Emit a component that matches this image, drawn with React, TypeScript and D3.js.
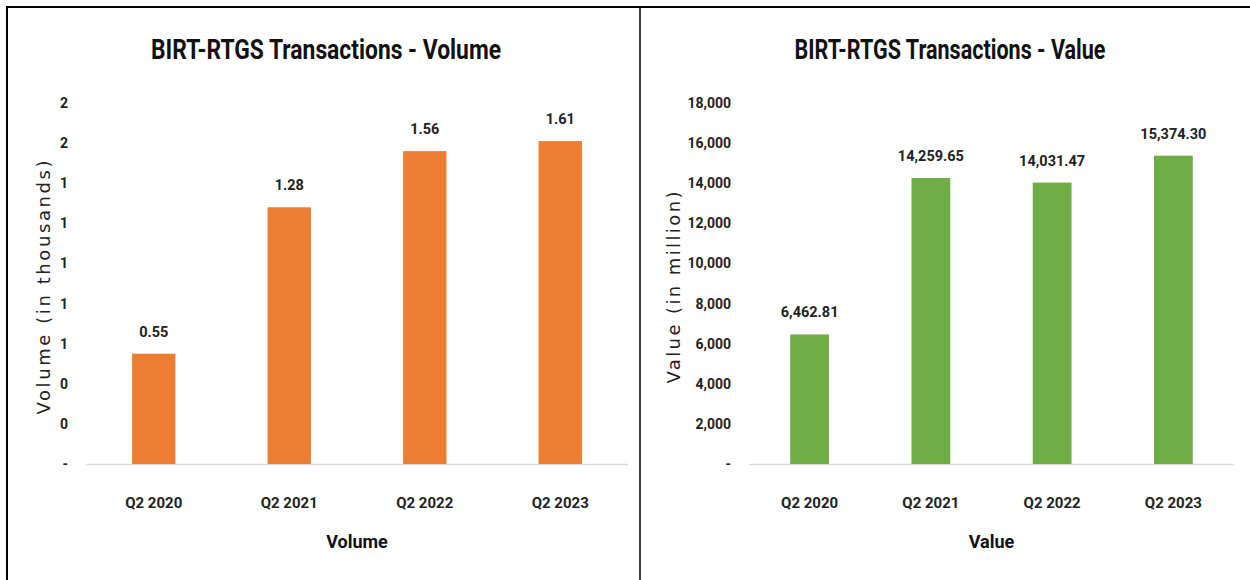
import React, { useEffect, useRef } from "react";
import * as d3 from "d3";

const quarters = ["Q2 2020", "Q2 2021", "Q2 2022", "Q2 2023"];
const volumeValues = [0.55, 1.28, 1.56, 1.61];
const valueValues = [6462.81, 14259.65, 14031.47, 15374.3];
const volumeTicks = [0, 0.2, 0.4, 0.6, 0.8, 1.0, 1.2, 1.4, 1.6, 1.8];
const valueTicks = [0, 2000, 4000, 6000, 8000, 10000, 12000, 14000, 16000, 18000];

const W = 1250;
const H = 580;
const narrow = "'Liberation Sans Narrow', 'Roboto', 'Open Sans', sans-serif";

type PanelCfg = {
  title: string;
  titleX: number;
  titleLen: number;
  yTitle: string;
  yTitleX: number;
  yTitleLen: number;
  xTitle: string;
  values: number[];
  ticks: number[];
  tickFmt: (v: number) => string;
  labelFmt: (v: number) => string;
  color: string;
  x0: number;
  x1: number;
  tickX: number;
};

const App: React.FC = () => {
  const svgRef = useRef<SVGSVGElement | null>(null);

  useEffect(() => {
    const svg = d3.select(svgRef.current);
    svg.selectAll("*").remove();

    svg.append("rect").attr("width", W).attr("height", H).attr("fill", "#fff");

    // frame lines
    svg.append("line").attr("x1", 6).attr("x2", W).attr("y1", 7).attr("y2", 7)
      .attr("stroke", "#000").attr("stroke-width", 2);
    svg.append("line").attr("x1", 7).attr("x2", 7).attr("y1", 6).attr("y2", H)
      .attr("stroke", "#000").attr("stroke-width", 2);
    svg.append("line").attr("x1", 640).attr("x2", 640).attr("y1", 6).attr("y2", H)
      .attr("stroke", "#000").attr("stroke-width", 1.5);

    const yTop = 103;
    const yBottom = 464;

    const panels: PanelCfg[] = [
      {
        title: "BIRT-RTGS Transactions - Volume",
        titleX: 326,
        titleLen: 350,
        yTitle: "Volume  (in thousands)",
        yTitleX: 44,
        yTitleLen: 254,
        xTitle: "Volume",
        values: volumeValues,
        ticks: volumeTicks,
        tickFmt: (v) => (v === 0 ? "-" : d3.format(".0f")(v)),
        labelFmt: d3.format(".2f"),
        color: "#ED7D31",
        x0: 86,
        x1: 628,
        tickX: 68,
      },
      {
        title: "BIRT-RTGS Transactions - Value",
        titleX: 950,
        titleLen: 311,
        yTitle: "Value  (in million)",
        yTitleX: 674,
        yTitleLen: 192,
        xTitle: "Value",
        values: valueValues,
        ticks: valueTicks,
        tickFmt: (v) => (v === 0 ? "-" : d3.format(",.0f")(v)),
        labelFmt: d3.format(",.2f"),
        color: "#70AD47",
        x0: 749,
        x1: 1234,
        tickX: 731,
      },
    ];

    panels.forEach((p) => {
      const g = svg.append("g");
      const maxTick = p.ticks[p.ticks.length - 1];
      const y = d3.scaleLinear().domain([0, maxTick]).range([yBottom, yTop]);
      const x = d3.scaleBand().domain(quarters).range([p.x0, p.x1]).paddingInner(0.68).paddingOuter(0.34);

      g.append("text")
        .attr("x", p.titleX)
        .attr("y", 59)
        .attr("text-anchor", "middle")
        .attr("font-family", narrow)
        .attr("font-weight", "bold")
        .attr("font-size", 27)
        .attr("fill", "#111")
        .attr("textLength", p.titleLen)
        .attr("lengthAdjust", "spacingAndGlyphs")
        .text(p.title);

      // y tick labels
      g.selectAll(".ytick")
        .data(p.ticks)
        .join("text")
        .attr("x", p.tickX)
        .attr("y", (d) => y(d) + 5)
        .attr("text-anchor", "end")
        .attr("font-family", narrow)
        .attr("font-weight", "bold")
        .attr("font-size", 14)
        .attr("fill", "#222")
        .text((d) => p.tickFmt(d));

      // y axis title
      g.append("text")
        .attr("transform", `translate(${p.yTitleX + 6}, ${(yTop + yBottom) / 2 + 4}) rotate(-90)`)
        .attr("text-anchor", "middle")
        .attr("font-family", "'DejaVu Sans', sans-serif")
        .attr("font-size", 18)
        .attr("fill", "#222")
        .attr("textLength", p.yTitleLen)
        .attr("lengthAdjust", "spacing")
        .text(p.yTitle);

      // baseline
      g.append("line")
        .attr("x1", p.x0)
        .attr("x2", p.x1)
        .attr("y1", yBottom + 0.5)
        .attr("y2", yBottom + 0.5)
        .attr("stroke", "#d9d9d9")
        .attr("stroke-width", 1.5);

      // bars
      g.selectAll(".bar")
        .data(p.values)
        .join("rect")
        .attr("x", (_, i) => x(quarters[i]) as number)
        .attr("width", x.bandwidth())
        .attr("y", (d) => y(d))
        .attr("height", (d) => yBottom - y(d))
        .attr("fill", p.color);

      // data labels
      g.selectAll(".lbl")
        .data(p.values)
        .join("text")
        .attr("x", (_, i) => (x(quarters[i]) as number) + x.bandwidth() / 2)
        .attr("y", (d) => y(d) - 17)
        .attr("text-anchor", "middle")
        .attr("font-family", narrow)
        .attr("font-weight", "bold")
        .attr("font-size", 14.5)
        .attr("fill", "#222")
        .text((d) => p.labelFmt(d));

      // x tick labels
      g.selectAll(".xtick")
        .data(quarters)
        .join("text")
        .attr("x", (d) => (x(d) as number) + x.bandwidth() / 2)
        .attr("y", 508)
        .attr("text-anchor", "middle")
        .attr("font-family", narrow)
        .attr("font-weight", "bold")
        .attr("font-size", 15)
        .attr("fill", "#222")
        .text((d) => d);

      // x axis title
      g.append("text")
        .attr("x", (p.x0 + p.x1) / 2)
        .attr("y", 548)
        .attr("text-anchor", "middle")
        .attr("font-family", narrow)
        .attr("font-weight", "bold")
        .attr("font-size", 18)
        .attr("fill", "#111")
        .text(p.xTitle);
    });
  }, []);

  return (
    <div style={{ position: "absolute", left: 0, top: 0, width: W, height: H, background: "#fff" }}>
      <svg ref={svgRef} width={W} height={H} style={{ display: "block" }} />
    </div>
  );
};

export default App;
